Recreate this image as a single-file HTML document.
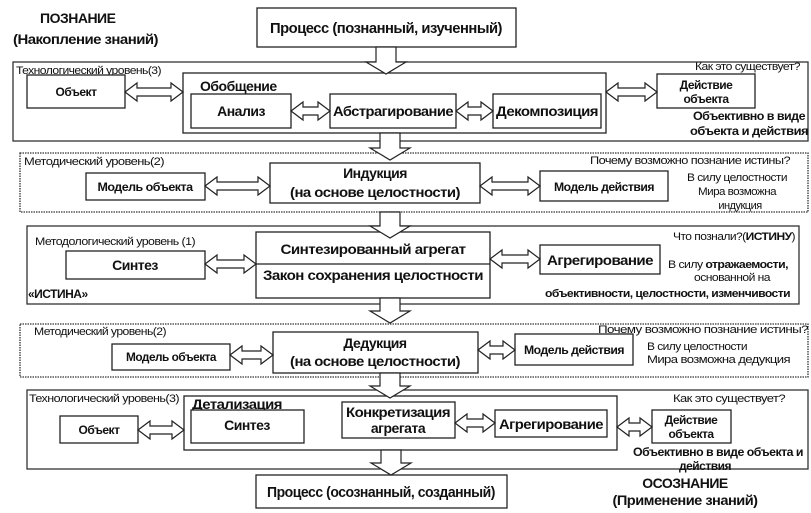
<!DOCTYPE html>
<html><head><meta charset="utf-8"><style>
html,body{margin:0;padding:0;background:#fff;}
svg{display:block}
text{font-family:"Liberation Sans Narrow","Liberation Sans","DejaVu Sans",sans-serif;fill:#111;letter-spacing:-0.5px}
.b{font-weight:bold}
rect{fill:#fff;stroke:#222;stroke-width:1.3}
.o{fill:none;stroke:#333;stroke-width:1.3}
polygon{fill:#fff;stroke:#222;stroke-width:1.2}
</style></head><body>
<svg width="811" height="513" viewBox="0 0 811 513" xmlns="http://www.w3.org/2000/svg">
<text x="40" y="23" class="b" font-size="14">ПОЗНАНИЕ</text>
<text x="13" y="44" class="b" font-size="14" textLength="145" lengthAdjust="spacingAndGlyphs">(Накопление знаний)</text>
<rect x="257" y="8" width="259" height="39"/>
<text x="386" y="33" class="b" font-size="15" text-anchor="middle" textLength="232" lengthAdjust="spacingAndGlyphs">Процесс (познанный, изученный)</text>

<rect class="o" x="13" y="62" width="795" height="79"/>
<text x="16" y="74" font-size="11" textLength="145" lengthAdjust="spacingAndGlyphs">Технологический уровень(3)</text>
<text x="800" y="70" font-size="11" text-anchor="end" textLength="105" lengthAdjust="spacingAndGlyphs">Как это существует?</text>
<rect x="183" y="73" width="423" height="60"/>
<text x="200" y="91" class="b" font-size="14">Обобщение</text>
<rect x="27" y="75" width="98" height="33"/>
<text x="76" y="96" class="b" font-size="12" text-anchor="middle">Объект</text>
<rect x="191" y="94" width="100" height="34"/>
<text x="241" y="116" class="b" font-size="14" text-anchor="middle">Анализ</text>
<rect x="330" y="94" width="126" height="34"/>
<text x="393" y="116" class="b" font-size="14" text-anchor="middle" textLength="120" lengthAdjust="spacingAndGlyphs">Абстрагирование</text>
<rect x="493" y="94" width="108" height="34"/>
<text x="547" y="116" class="b" font-size="14" text-anchor="middle" textLength="102" lengthAdjust="spacingAndGlyphs">Декомпозиция</text>
<rect x="657" y="74" width="98" height="34"/>
<text x="706" y="89" class="b" font-size="12" text-anchor="middle">Действие</text>
<text x="706" y="103" class="b" font-size="12" text-anchor="middle">объекта</text>
<text x="805" y="120" class="b" font-size="12" text-anchor="end" textLength="112" lengthAdjust="spacingAndGlyphs">Объективно в виде</text>
<text x="808" y="135" class="b" font-size="12" text-anchor="end" textLength="118" lengthAdjust="spacingAndGlyphs">объекта и действия</text>

<rect class="o" x="20" y="153" width="788" height="59" stroke-dasharray="1.5 1"/>
<text x="24" y="165" font-size="11" textLength="140" lengthAdjust="spacingAndGlyphs">Методический уровень(2)</text>
<text x="790" y="164" font-size="11" text-anchor="end" textLength="200" lengthAdjust="spacingAndGlyphs">Почему возможно познание истины?</text>
<rect x="86" y="173" width="119" height="27"/>
<text x="145" y="191" class="b" font-size="12" text-anchor="middle" textLength="95" lengthAdjust="spacingAndGlyphs">Модель объекта</text>
<rect x="270" y="163" width="210" height="40"/>
<text x="375" y="178" class="b" font-size="14" text-anchor="middle">Индукция</text>
<text x="375" y="197" class="b" font-size="14" text-anchor="middle" textLength="170" lengthAdjust="spacingAndGlyphs">(на основе целостности)</text>
<rect x="540" y="171" width="128" height="30"/>
<text x="604" y="191" class="b" font-size="12" text-anchor="middle" textLength="100" lengthAdjust="spacingAndGlyphs">Модель действия</text>
<text x="737" y="181" font-size="11" text-anchor="middle" textLength="100" lengthAdjust="spacingAndGlyphs">В силу целостности</text>
<text x="737" y="195" font-size="11" text-anchor="middle" textLength="78" lengthAdjust="spacingAndGlyphs">Мира возможна</text>
<text x="740" y="209" font-size="11" text-anchor="middle">индукция</text>

<rect class="o" x="27" y="226" width="772" height="78"/>
<text x="35" y="245" font-size="11" textLength="160" lengthAdjust="spacingAndGlyphs">Методологический уровень (1)</text>
<text x="795" y="240" font-size="11" text-anchor="end" textLength="122" lengthAdjust="spacingAndGlyphs">Что познали?(<tspan class="b">ИСТИНУ</tspan>)</text>
<rect x="66" y="251" width="139" height="28"/>
<text x="135" y="270" class="b" font-size="14" text-anchor="middle">Синтез</text>
<text x="28" y="298" class="b" font-size="12">«ИСТИНА»</text>
<rect x="256" y="232" width="234" height="66"/>
<line x1="256" y1="264" x2="490" y2="264" stroke="#222" stroke-width="1.3"/>
<text x="373" y="254" class="b" font-size="14" text-anchor="middle" textLength="185" lengthAdjust="spacingAndGlyphs">Синтезированный агрегат</text>
<text x="373" y="280" class="b" font-size="14" text-anchor="middle" textLength="220" lengthAdjust="spacingAndGlyphs">Закон сохранения целостности</text>
<rect x="540" y="245" width="120" height="29"/>
<text x="600" y="265" class="b" font-size="14" text-anchor="middle" textLength="106" lengthAdjust="spacingAndGlyphs">Агрегирование</text>
<text x="728" y="268" font-size="11" text-anchor="middle" textLength="120" lengthAdjust="spacingAndGlyphs">В силу <tspan class="b">отражаемости,</tspan></text>
<text x="732" y="281" font-size="11" text-anchor="middle" textLength="76" lengthAdjust="spacingAndGlyphs">основанной на</text>
<text x="790" y="297" class="b" font-size="11" text-anchor="end" textLength="245" lengthAdjust="spacingAndGlyphs">объективности, целостности, изменчивости</text>

<rect class="o" x="20" y="324" width="788" height="53" stroke-dasharray="1.5 1"/>
<text x="34" y="335" font-size="11" textLength="132" lengthAdjust="spacingAndGlyphs">Методический уровень(2)</text>
<text x="808" y="333" font-size="11" text-anchor="end" textLength="210" lengthAdjust="spacingAndGlyphs">Почему возможно познание истины?</text>
<rect x="112" y="344" width="118" height="26"/>
<text x="171" y="361" class="b" font-size="12" text-anchor="middle" textLength="90" lengthAdjust="spacingAndGlyphs">Модель объекта</text>
<rect x="273" y="332" width="205" height="41"/>
<text x="375" y="348" class="b" font-size="14" text-anchor="middle">Дедукция</text>
<text x="375" y="366" class="b" font-size="14" text-anchor="middle" textLength="170" lengthAdjust="spacingAndGlyphs">(на основе целостности)</text>
<rect x="515" y="334" width="118" height="31"/>
<text x="574" y="354" class="b" font-size="12" text-anchor="middle" textLength="100" lengthAdjust="spacingAndGlyphs">Модель действия</text>
<text x="647" y="350" font-size="11" textLength="100" lengthAdjust="spacingAndGlyphs">В силу целостности</text>
<text x="647" y="363" font-size="11" textLength="143" lengthAdjust="spacingAndGlyphs">Мира возможна дедукция</text>

<rect class="o" x="27" y="390" width="781" height="79"/>
<text x="29" y="402" font-size="11" textLength="150" lengthAdjust="spacingAndGlyphs">Технологический уровень(3)</text>
<text x="785" y="402" font-size="11" text-anchor="end" textLength="112" lengthAdjust="spacingAndGlyphs">Как это существует?</text>
<rect x="184" y="396" width="433" height="54"/>
<text x="192" y="409" class="b" font-size="14" textLength="90" lengthAdjust="spacingAndGlyphs">Детализация</text>
<rect x="60" y="416" width="78" height="27"/>
<text x="99" y="434" class="b" font-size="12" text-anchor="middle">Объект</text>
<rect x="191" y="410" width="113" height="33"/>
<text x="247" y="430" class="b" font-size="14" text-anchor="middle">Синтез</text>
<rect x="342" y="402" width="113" height="36"/>
<text x="398" y="417" class="b" font-size="14" text-anchor="middle" textLength="104" lengthAdjust="spacingAndGlyphs">Конкретизация</text>
<text x="398" y="433" class="b" font-size="14" text-anchor="middle">агрегата</text>
<rect x="495" y="410" width="112" height="27"/>
<text x="551" y="429" class="b" font-size="14" text-anchor="middle" textLength="104" lengthAdjust="spacingAndGlyphs">Агрегирование</text>
<rect x="652" y="410" width="79" height="33"/>
<text x="691" y="424" class="b" font-size="12" text-anchor="middle">Действие</text>
<text x="691" y="438" class="b" font-size="12" text-anchor="middle">объекта</text>
<text x="718" y="456" class="b" font-size="12" text-anchor="middle" textLength="170" lengthAdjust="spacingAndGlyphs">Объективно в виде  объекта и</text>
<text x="705" y="470" class="b" font-size="12" text-anchor="middle">действия</text>

<rect x="256" y="475" width="251" height="33"/>
<text x="381" y="497" class="b" font-size="15" text-anchor="middle" textLength="228" lengthAdjust="spacingAndGlyphs">Процесс (осознанный, созданный)</text>
<text x="685" y="488" class="b" font-size="14" text-anchor="middle">ОСОЗНАНИЕ</text>
<text x="685" y="505" class="b" font-size="14" text-anchor="middle" textLength="145" lengthAdjust="spacingAndGlyphs">(Применение знаний)</text>

<polygon points="376,47 396,47 396,62 406,62 386,74 366,62 376,62"/>
<polygon points="380,133 400,133 400,148 410,148 390,160 370,148 380,148"/>
<polygon points="380,212 400,212 400,226 410,226 390,238 370,226 380,226"/>
<polygon points="380,298 400,298 400,311 410,311 390,323 370,311 380,311"/>
<polygon points="380,373 400,373 400,386 410,386 390,398 370,386 380,386"/>
<polygon points="381,450 401,450 401,463 411,463 391,475 371,463 381,463"/>

<polygon points="125,92 137,83 137,88 171,88 171,83 183,92 171,101 171,96 137,96 137,101"/>
<polygon points="291,111 303,102 303,107 318,107 318,102 330,111 318,120 318,115 303,115 303,120"/>
<polygon points="456,111 468,102 468,107 481,107 481,102 493,111 481,120 481,115 468,115 468,120"/>
<polygon points="606,92 618,83 618,88 645,88 645,83 657,92 645,101 645,96 618,96 618,101"/>
<polygon points="205,186 217,177 217,182 258,182 258,177 270,186 258,195 258,190 217,190 217,195"/>
<polygon points="480,186 492,177 492,182 528,182 528,177 540,186 528,195 528,190 492,190 492,195"/>
<polygon points="205,264 217,255 217,260 244,260 244,255 256,264 244,273 244,268 217,268 217,273"/>
<polygon points="490,259 502,250 502,255 528,255 528,250 540,259 528,268 528,263 502,263 502,268"/>
<polygon points="230,355 242,346 242,351 261,351 261,346 273,355 261,364 261,359 242,359 242,364"/>
<polygon points="478,350 490,341 490,346 503,346 503,341 515,350 503,359 503,354 490,354 490,359"/>
<polygon points="138,430 150,421 150,426 172,426 172,421 184,430 172,439 172,434 150,434 150,439"/>
<polygon points="455,423 467,414 467,419 483,419 483,414 495,423 483,432 483,427 467,427 467,432"/>
<polygon points="617,427 629,418 629,423 640,423 640,418 652,427 640,436 640,431 629,431 629,436"/>
</svg>
</body></html>
